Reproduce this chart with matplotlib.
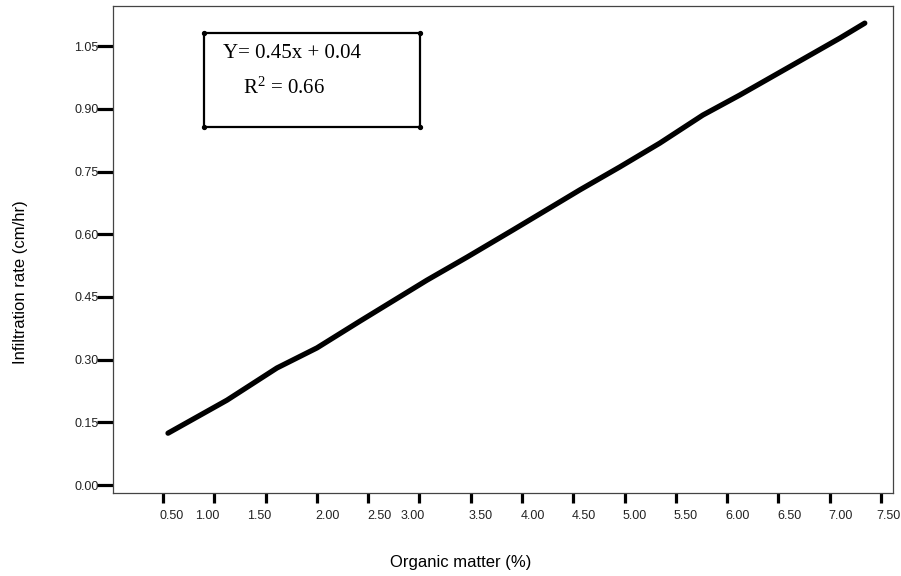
import matplotlib
matplotlib.use("Agg")
import matplotlib.pyplot as plt
from matplotlib.patches import Rectangle
from matplotlib.transforms import ScaledTranslation

# Data
om = [0.549, 1.124, 1.611, 2.001, 2.420, 3.073, 3.463, 3.911, 4.272, 4.564,
      4.954, 5.344, 5.763, 6.124, 6.640, 7.098, 7.342]
infil = [0.124, 0.203, 0.280, 0.328, 0.392, 0.490, 0.545, 0.610, 0.663, 0.706,
         0.761, 0.818, 0.885, 0.933, 1.005, 1.069, 1.105]

xticks = [0.5, 1.0, 1.5, 2.0, 2.5, 3.0, 3.5, 4.0, 4.5, 5.0, 5.5, 6.0, 6.5, 7.0, 7.5]
xticklabels = ["0.50", "1.00", "1.50", "2.00", "2.50", "3.00", "3.50", "4.00",
               "4.50", "5.00", "5.50", "6.00", "6.50", "7.00", "7.50"]
yticks = [0.00, 0.15, 0.30, 0.45, 0.60, 0.75, 0.90, 1.05]
yticklabels = ["0.00", "0.15", "0.30", "0.45", "0.60", "0.75", "0.90", "1.05"]

eq_text = "Y= 0.45x + 0.04"
r2_text = "R$^{2}$ = 0.66"
xlabel = "Organic matter (%)"
ylabel = "Infiltration rate (cm/hr)"

# label horizontal offsets (pixels) as seen in the reference
label_dx = [9, -7, -6, 11, 11, -7, 10, 11, 11, 10, 10, 10, 11, 11, 7]

plt.rcParams['font.family'] = ['Liberation Sans', 'DejaVu Sans']
plt.rcParams['mathtext.fontset'] = 'custom'
plt.rcParams['mathtext.rm'] = 'Liberation Serif'
plt.rcParams['mathtext.it'] = 'Liberation Serif'

fig = plt.figure(figsize=(9.01, 5.76), dpi=100)
ax = fig.add_axes([113/901, 1-493/576, 780/901, 487/576])

ax.plot(om, infil, color='black', lw=3.8, solid_capstyle='round', solid_joinstyle='round')

ax.set_xlim(0.0127, 7.617)
ax.set_ylim(-0.0191, 1.146)

for s in ax.spines.values():
    s.set_color('#444444')
    s.set_linewidth(0.9)

ax.set_xticks(xticks)
ax.set_xticklabels(xticklabels)
ax.set_yticks(yticks)
ax.set_yticklabels(yticklabels)
ax.tick_params(axis='y', direction='out', length=11.5, width=2.3, color='black',
               labelsize=9, pad=-1, labelcolor='#222222')
ax.tick_params(axis='x', direction='out', length=7, width=2.3, color='black',
               labelsize=9, pad=5, labelcolor='#222222')

for lab, dx in zip(ax.get_xticklabels(), label_dx):
    lab.set_transform(lab.get_transform() + ScaledTranslation(dx/100, 0, fig.dpi_scale_trans))

fig.text(461/901, 1-562/576, xlabel, ha='center', va='center', fontsize=12)
fig.text(21/901, 1-282/576, ylabel, ha='center', va='center', rotation=90, fontsize=12)

# text box
x0, x1 = (204-113)/780, (420-113)/780
y0, y1 = (493-127)/487, (493-33)/487
ax.add_patch(Rectangle((x0, y0), x1-x0, y1-y0, transform=ax.transAxes,
                       fill=False, edgecolor='black', lw=1.6, zorder=5))
ax.plot([x0, x1, x0, x1], [y0, y0, y1, y1], 'o', color='black', ms=2.8,
        transform=ax.transAxes, zorder=6)

ax.text((223-113)/780, (493-58)/487, eq_text, transform=ax.transAxes,
        family='Liberation Serif', fontsize=15, ha='left', va='baseline')
ax.text((243-113)/780, (493-94)/487, r2_text, transform=ax.transAxes,
        family='Liberation Serif', fontsize=15, ha='left', va='baseline')

fig.savefig('out.png', dpi=100)
